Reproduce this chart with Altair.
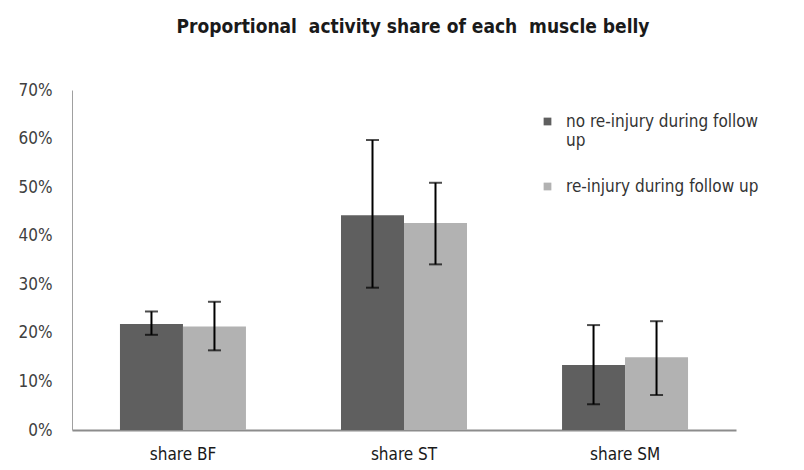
import altair as alt
import pandas as pd

categories = ["share BF", "share ST", "share SM"]
groups = ["no re-injury during follow up", "re-injury during follow up"]

mean_no = [21.8, 44.2, 13.4]
low_no = [19.6, 29.3, 5.3]
high_no = [24.4, 59.7, 21.6]

mean_re = [21.3, 42.6, 15.0]
low_re = [16.4, 34.1, 7.2]
high_re = [26.4, 50.9, 22.4]

y_ticks = [0, 10, 20, 30, 40, 50, 60, 70]
colors = ["#5f5f5f", "#b2b2b2"]

rows = []
for i, c in enumerate(categories):
    rows.append({"cat": c, "grp": groups[0], "mean": mean_no[i], "lo": low_no[i], "hi": high_no[i]})
    rows.append({"cat": c, "grp": groups[1], "mean": mean_re[i], "lo": low_re[i], "hi": high_re[i]})
df = pd.DataFrame(rows)

FONT = "Liberation Sans Narrow, DejaVu Sans Condensed, sans-serif"

x_enc = alt.X(
    "cat:N",
    sort=categories,
    title=None,
    scale=alt.Scale(paddingInner=0.43, paddingOuter=0.217),
    axis=alt.Axis(
        labelAngle=0, ticks=False, tickSize=0, labelPadding=16, labelFontSize=17,
        labelFont=FONT, labelColor="#1a1a1a", domainColor="#8c8c8c", domainWidth=2,
        grid=False,
    ),
)
x_plain = alt.X("cat:N", sort=categories, title=None)
xo_enc = alt.XOffset("grp:N", sort=groups, scale=alt.Scale(paddingInner=0, paddingOuter=0))
y_scale = alt.Scale(domain=[0, 70], nice=False)

base = alt.Chart(df)

bars = base.mark_bar().encode(
    x=x_enc,
    xOffset=xo_enc,
    y=alt.Y(
        "mean:Q", scale=y_scale, title=None,
        axis=alt.Axis(
            values=y_ticks, labelExpr="datum.value + '%'", ticks=False, tickSize=0,
            labelPadding=20, labelFontSize=17, labelFont=FONT, labelColor="#404040",
            domainColor="#a0a0a0", domainWidth=1, grid=False,
        ),
    ),
    color=alt.Color(
        "grp:N", sort=groups, scale=alt.Scale(domain=groups, range=colors),
        legend=alt.Legend(
            title=None, orient="none", legendX=467, legendY=23, symbolType="square",
            symbolSize=60, symbolStrokeWidth=0, labelFontSize=17, labelFont=FONT,
            labelColor="#333333", labelLimit=400, rowPadding=28, labelOffset=10,
            labelExpr="datum.label == 'no re-injury during follow up' ? ['no re-injury during follow', 'up'] : datum.label",
            padding=0,
        ),
    ),
)

rules = base.mark_rule(color="black", strokeWidth=2).encode(
    x=x_plain,
    xOffset=xo_enc,
    y=alt.Y("lo:Q", scale=y_scale, title=None),
    y2="hi:Q",
)

caps_lo = base.mark_tick(color="black", thickness=2, size=13, orient="horizontal").encode(
    x=x_plain,
    xOffset=xo_enc,
    y=alt.Y("lo:Q", scale=y_scale, title=None),
)
caps_hi = base.mark_tick(color="black", thickness=2, size=13, orient="horizontal").encode(
    x=x_plain,
    xOffset=xo_enc,
    y=alt.Y("hi:Q", scale=y_scale, title=None),
)

chart = (
    alt.layer(bars, rules, caps_lo, caps_hi)
    .properties(
        width=664,
        height=340,
        title=alt.TitleParams(
            text="Proportional\u00a0\u00a0activity share of each\u00a0\u00a0muscle belly",
            font=FONT, fontSize=19, fontWeight="bold", color="#1a1a1a",
            anchor="middle", dx=9, offset=44,
        ),
        autosize=alt.AutoSizeParams(type="none"),
        padding={"left": 64, "top": 82, "right": 60, "bottom": 32},
    )
    .configure(background="white")
    .configure_view(stroke="transparent", strokeWidth=0)
)

chart.save("out.html", embed_options={"renderer": "svg", "actions": False})
